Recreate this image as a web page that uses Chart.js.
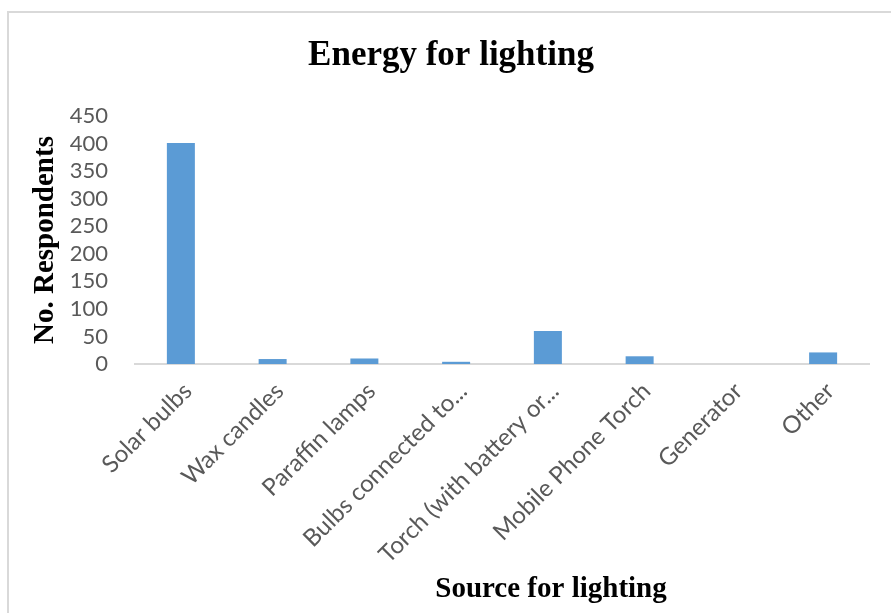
<!DOCTYPE html>
<html>
<head>
<meta charset="utf-8">
<script src="https://cdn.jsdelivr.net/npm/chart.js@4/dist/chart.umd.min.js"></script>
<style>
  html, body { margin: 0; padding: 0; background: #fff; }
  #wrap { width: 891px; height: 613px; position: relative; }
</style>
</head>
<body>
<div id="wrap"><canvas id="c" width="891" height="613"></canvas></div>
<script>
// Light sources and number of respondents using each
const categories = [
  'Solar bulbs', 'Wax candles', 'Paraffin lamps', 'Bulbs connected to...',
  'Torch (with battery or...', 'Mobile Phone Torch', 'Generator', 'Other'
];
const respondents = [401, 9, 10, 4, 60, 14, 0, 21];
const yTicks = [0, 50, 100, 150, 200, 250, 300, 350, 400, 450];

// Frame around the chart
const framePlugin = {
  id: 'frame',
  beforeDraw(chart) {
    const ctx = chart.ctx;
    ctx.save();
    ctx.fillStyle = '#ffffff';
    ctx.fillRect(0, 0, chart.width, chart.height);
    ctx.strokeStyle = '#d9d9d9';
    ctx.lineWidth = 2;
    ctx.strokeRect(8, 12, chart.width + 20, chart.height + 20);
    ctx.restore();
  }
};

const fontFamily = 'Lato, "Open Sans", sans-serif';
const serifBold = { family: '"Liberation Serif", "Times New Roman", serif', weight: 'bold' };

// The category axis title sits a little right of the plot centre
const X_TITLE_SHIFT = 49;

new Chart(document.getElementById('c'), {
  type: 'bar',
  data: {
    labels: categories,
    datasets: [{
      data: respondents,
      backgroundColor: '#5b9bd5',
      borderWidth: 0,
      inflateAmount: 0,
      barThickness: 28
    }]
  },
  plugins: [framePlugin],
  options: {
    responsive: false,
    animation: false,
    devicePixelRatio: 1,
    layout: { padding: { left: 33, right: 22, top: 12, bottom: 0 } },
    plugins: {
      legend: { display: false },
      tooltip: { enabled: false },
      title: {
        display: true,
        text: 'Energy for lighting',
        color: '#000',
        font: Object.assign({ size: 35, lineHeight: 1.2 }, serifBold),
        padding: { top: 23, bottom: 39 }
      }
    },
    scales: {
      x: {
        grid: { display: false, drawTicks: false },
        border: { display: true, color: '#d9d9d9', width: 2 },
        ticks: {
          color: '#595959',
          font: { family: fontFamily, size: 24 },
          minRotation: 45,
          maxRotation: 45,
          autoSkip: false,
          labelOffset: 7,
          padding: 13
        },
        title: {
          display: true,
          text: 'Source for lighting',
          color: '#000',
          font: Object.assign({ size: 29, lineHeight: 1.2 }, serifBold),
          padding: { top: 0, bottom: 6 }
        },
        afterFit(scale) {
          scale.height = 249;
          if (!scale._titleShifted) {
            const drawTitle = scale.drawTitle;
            scale.drawTitle = function () {
              this.ctx.save();
              this.ctx.translate(X_TITLE_SHIFT, 0);
              drawTitle.apply(this, arguments);
              this.ctx.restore();
            };
            scale._titleShifted = true;
          }
        }
      },
      y: {
        min: 0,
        max: 450,
        grid: { display: false, drawTicks: false },
        border: { display: false },
        afterBuildTicks(scale) { scale.ticks = yTicks.map(v => ({ value: v })); },
        ticks: {
          color: '#595959',
          font: { family: fontFamily, size: 22 },
          autoSkip: false,
          padding: 27
        },
        title: {
          display: true,
          text: 'No. Respondents',
          color: '#000',
          font: Object.assign({ size: 29, lineHeight: 1.2 }, serifBold),
          padding: { top: -5, bottom: 0 }
        },
        afterFit(scale) { scale.width = 102; }
      }
    }
  }
});
</script>
</body>
</html>
